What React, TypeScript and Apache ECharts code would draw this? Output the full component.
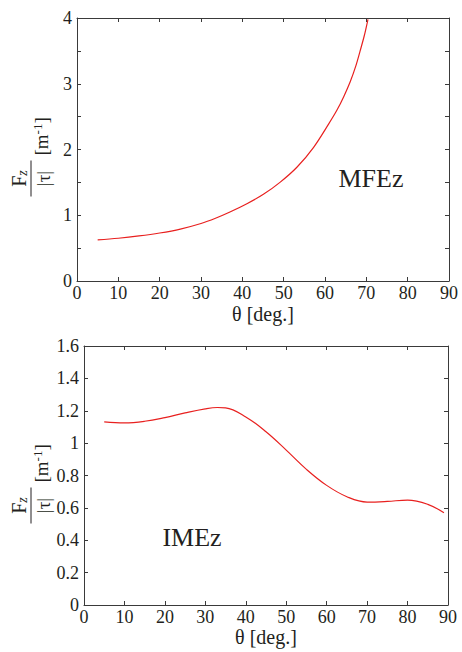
import React, { useEffect, useRef } from "react";
import * as echarts from "echarts";

const mfeTheta = [5, 10, 15, 20, 25, 30, 33.5, 37, 41.1, 45.1, 49.1, 53.2, 57.2, 60.9, 62.9, 64.5, 66.1, 67.5, 68.5, 69.5, 70.4];
const mfeValue = [0.625, 0.65, 0.685, 0.73, 0.79, 0.875, 0.955, 1.05, 1.175, 1.318, 1.5, 1.73, 2.03, 2.39, 2.6, 2.8, 3.03, 3.28, 3.5, 3.73, 3.98];
const imeTheta = [5, 10, 15, 20, 25, 30, 33, 35, 40, 45, 50, 55, 60, 65, 70, 75, 80, 85, 89];
const imeValue = [1.131, 1.125, 1.135, 1.158, 1.187, 1.212, 1.22, 1.218, 1.162, 1.07, 0.957, 0.838, 0.739, 0.669, 0.636, 0.64, 0.648, 0.622, 0.57];
const xTickLabels = [0, 10, 20, 30, 40, 50, 60, 70, 80, 90];
const yTickLabelsTop = [0, 1, 2, 3, 4];
const yTickLabelsBottom = [0, 0.2, 0.4, 0.6, 0.8, 1, 1.2, 1.4, 1.6];
const xName = "θ [deg.]";
const labelTop = "MFEz";
const labelBottom = "IMEz";

const FONT = "Liberation Serif";
const TXT = "#231f20";
const AX = "#3a3a3a";
const RED = "#e8201f";

function hasTick(list: number[], v: number) {
  return list.some((t) => Math.abs(t - v) < 1e-6);
}

function yFraction(cx: number, cy: number) {
  return {
    type: "group",
    x: cx,
    y: cy,
    rotation: Math.PI / 2,
    silent: true,
    children: [
      {
        type: "text",
        x: 0,
        y: -12,
        style: {
          text: "{a|F}{b|z}",
          align: "center",
          verticalAlign: "middle",
          fill: TXT,
          fontFamily: FONT,
          rich: {
            a: { fontFamily: FONT, fontSize: 20, fill: TXT },
            b: { fontFamily: FONT, fontSize: 14, fontStyle: "italic", fill: TXT, padding: [6, 0, 0, 0] },
          },
        },
      },
      {
        type: "line",
        shape: { x1: -18, y1: 0, x2: 18, y2: 0 },
        style: { stroke: TXT, lineWidth: 1 },
      },
      {
        type: "text",
        x: 0,
        y: 12,
        style: {
          text: "|τ|",
          align: "center",
          verticalAlign: "middle",
          fontFamily: FONT,
          fontSize: 19,
          fill: TXT,
        },
      },
      {
        type: "text",
        x: 23,
        y: 10,
        style: {
          text: "{a|[m}{b|-1}{a|]}",
          align: "left",
          verticalAlign: "middle",
          fill: TXT,
          fontFamily: FONT,
          rich: {
            a: { fontFamily: FONT, fontSize: 19, fill: TXT },
            b: { fontFamily: FONT, fontSize: 13, fill: TXT, padding: [0, 0, 8, 0] },
          },
        },
      },
    ],
  };
}

function xAxes(grid: number, gap: number) {
  return [
    {
      gridIndex: grid,
      type: "value",
      position: "bottom",
      min: 0,
      max: 90,
      interval: 10,
      axisLine: { show: true, onZero: false, lineStyle: { color: AX, width: 1 } },
      axisTick: { show: true, inside: true, length: 4, lineStyle: { color: AX } },
      axisLabel: {
        show: true,
        margin: 3,
        fontFamily: FONT,
        fontSize: 18,
        color: TXT,
        formatter: (v: number) => (hasTick(xTickLabels, v) ? String(v) : ""),
      },
      splitLine: { show: false },
      name: xName,
      nameLocation: "middle",
      nameGap: gap,
      nameTextStyle: { fontFamily: FONT, fontSize: 20, color: TXT },
    },
    {
      gridIndex: grid,
      type: "value",
      position: "top",
      min: 0,
      max: 90,
      interval: 10,
      axisLine: { show: true, onZero: false, lineStyle: { color: AX, width: 1 } },
      axisTick: { show: true, inside: true, length: 4, lineStyle: { color: AX } },
      axisLabel: { show: false },
      splitLine: { show: false },
    },
  ];
}

function yAxes(grid: number, max: number, interval: number, labels: number[]) {
  return [
    {
      gridIndex: grid,
      type: "value",
      position: "left",
      min: 0,
      max,
      interval,
      axisLine: { show: true, onZero: false, lineStyle: { color: AX, width: 1 } },
      axisTick: { show: true, inside: true, length: 4, lineStyle: { color: AX } },
      axisLabel: {
        show: true,
        margin: 5,
        fontFamily: FONT,
        fontSize: 18,
        color: TXT,
        formatter: (v: number) => (hasTick(labels, v) ? String(+v.toFixed(2)) : ""),
      },
      splitLine: { show: false },
    },
    {
      gridIndex: grid,
      type: "value",
      position: "right",
      min: 0,
      max,
      interval,
      axisLine: { show: true, onZero: false, lineStyle: { color: AX, width: 1 } },
      axisTick: { show: true, inside: true, length: 4, lineStyle: { color: AX } },
      axisLabel: { show: false },
      splitLine: { show: false },
    },
  ];
}

export default function App() {
  const ref = useRef<HTMLDivElement>(null);
  useEffect(() => {
    if (!ref.current) return;
    const chart = echarts.init(ref.current, undefined, { renderer: "svg" });
    chart.setOption({
      animation: false,
      backgroundColor: "#ffffff",
      textStyle: { fontFamily: FONT },
      grid: [
        { left: 77, top: 18, width: 372, height: 263 },
        { left: 84, top: 346, width: 364, height: 259 },
      ],
      xAxis: [...xAxes(0, 23), ...xAxes(1, 17)],
      yAxis: [...yAxes(0, 4, 0.5, yTickLabelsTop), ...yAxes(1, 1.6, 0.2, yTickLabelsBottom)],
      series: [
        {
          type: "line",
          xAxisIndex: 0,
          yAxisIndex: 0,
          data: mfeTheta.map((t, i) => [t, mfeValue[i]]),
          smooth: 0.35,
          showSymbol: false,
          lineStyle: { color: RED, width: 1.2 },
        },
        {
          type: "line",
          xAxisIndex: 2,
          yAxisIndex: 2,
          data: imeTheta.map((t, i) => [t, imeValue[i]]),
          smooth: 0.4,
          showSymbol: false,
          lineStyle: { color: RED, width: 1.2 },
        },
      ],
      graphic: [
        yFraction(31, 178.5),
        yFraction(31, 505.5),
        {
          type: "text",
          x: 371,
          y: 178,
          silent: true,
          style: { text: labelTop, align: "center", verticalAlign: "middle", fontFamily: FONT, fontSize: 26, fill: TXT },
        },
        {
          type: "text",
          x: 192,
          y: 537,
          silent: true,
          style: { text: labelBottom, align: "center", verticalAlign: "middle", fontFamily: FONT, fontSize: 26, fill: TXT },
        },
      ],
    });
    return () => chart.dispose();
  }, []);
  return (
    <div
      ref={ref}
      style={{ position: "fixed", left: 0, top: 0, width: 462, height: 652, background: "#fff" }}
    />
  );
}
